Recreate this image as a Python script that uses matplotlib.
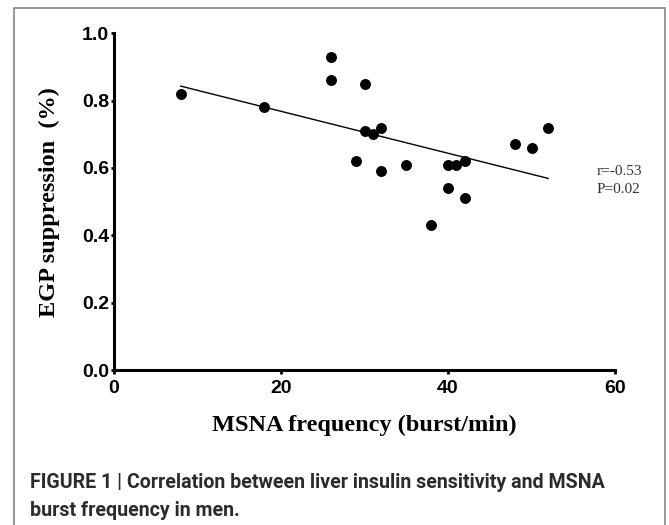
import numpy as np
import matplotlib
matplotlib.use("Agg")
import matplotlib.pyplot as plt
from matplotlib import font_manager
from matplotlib.patches import Rectangle

# data
msna = [8, 18, 26, 26, 30, 30, 31, 32, 29, 32, 35, 40, 41, 42, 40, 42, 38, 48, 50, 52]
egp = [0.82, 0.78, 0.93, 0.86, 0.85, 0.71, 0.70, 0.72, 0.62, 0.59, 0.61, 0.61, 0.61,
       0.62, 0.54, 0.51, 0.43, 0.67, 0.66, 0.72]
x_ticks = [0, 20, 40, 60]
y_ticks = [0.0, 0.2, 0.4, 0.6, 0.8, 1.0]
r_text = "r=-0.53"
p_text = "P=0.02"
caption = ["FIGURE 1 | Correlation between liver insulin sensitivity and MSNA",
           "burst frequency in men."]


def has_font(name):
    try:
        font_manager.findfont(font_manager.FontProperties(family=name),
                              fallback_to_default=False)
        return True
    except Exception:
        return False


cap_font = "Liberation Sans Narrow" if has_font("Liberation Sans Narrow") else "Roboto"
cap_size = 13.4 if cap_font == "Liberation Sans Narrow" else 14.1
serif = "Liberation Serif"
sans = "Liberation Sans"

fig = plt.figure(figsize=(6.69, 5.25), dpi=100)
ax = fig.add_axes([0.1704, 0.2952, 0.7489, 0.6414])

ax.scatter(msna, egp, s=62, color="black", zorder=3, linewidths=0)

# linear regression line over the data range
slope, icpt = np.polyfit(msna, egp, 1)
xs = np.array([min(msna), max(msna)])
ax.plot(xs, slope * xs + icpt, color="black", lw=1.0)

ax.set_xlim(0, 60)
ax.set_ylim(0, 1.0)
ax.set_xticks(x_ticks)
ax.set_yticks(y_ticks)
ax.set_xticklabels([str(t) for t in x_ticks])
ax.set_yticklabels([f"{t:.1f}" for t in y_ticks])

for side in ["top", "right"]:
    ax.spines[side].set_visible(False)
for side in ["left", "bottom"]:
    ax.spines[side].set_linewidth(2.2)
ax.tick_params(axis="x", length=3, width=2, pad=4, labelsize=14)
ax.tick_params(axis="y", length=2.5, width=2, pad=1, labelsize=14)
for lab in ax.get_xticklabels() + ax.get_yticklabels():
    lab.set_fontfamily(sans)
    lab.set_fontweight("bold")

ax.set_xlabel("MSNA frequency (burst/min)", fontfamily=serif, fontweight="bold",
              fontsize=17.5, labelpad=13)
ax.set_ylabel("EGP suppression  (%)", fontfamily=serif, fontweight="bold",
              fontsize=17.5, labelpad=16)

ax.text(57.8, 0.579, r_text, fontfamily=serif, fontsize=11, color="#333333",
        va="baseline", ha="left", clip_on=False)
ax.text(57.8, 0.526, p_text, fontfamily=serif, fontsize=11, color="#333333",
        va="baseline", ha="left", clip_on=False)

# outer frame of the figure panel
fig.patches.append(Rectangle((14 / 669, -0.05), (665 - 14) / 669, 1.05 - 8 / 525,
                             transform=fig.transFigure, fill=False,
                             edgecolor="#7a7a7a", lw=1.1))

fig.text(30 / 669, 1 - 488.5 / 525, caption[0], fontfamily=cap_font,
         fontweight="bold", fontsize=cap_size, color="#2b2b2b", va="baseline")
fig.text(30 / 669, 1 - 516.5 / 525, caption[1], fontfamily=cap_font,
         fontweight="bold", fontsize=cap_size, color="#2b2b2b", va="baseline")

fig.savefig("out.png", dpi=100)
